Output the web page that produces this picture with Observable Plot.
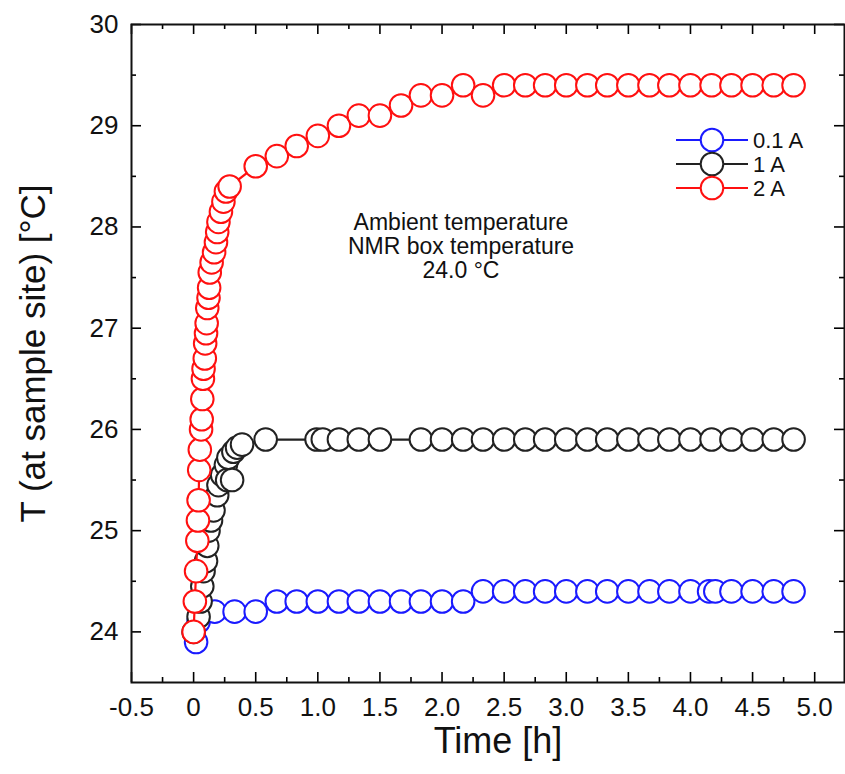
<!DOCTYPE html>
<html><head><meta charset="utf-8">
<script src="https://cdn.jsdelivr.net/npm/d3@7"></script>
<script src="https://cdn.jsdelivr.net/npm/@observablehq/plot@0.6"></script>
<style>
body{margin:0;background:#fff}
#chart svg{font-family:"Liberation Sans",Arial,sans-serif;overflow:visible}
</style>
</head><body><div id="chart"></div>
<script>
const seriesNames = ["0.1 A", "1 A", "2 A"];
const seriesColors = ["#1a1aff", "#222222", "#ff1010"];

const time01 = [0.02,0.04,0.17,0.33,0.5,0.67,0.83,1.0,1.17,1.33,1.5,1.67,1.83,2.0,2.17,2.33,2.5,2.67,2.83,3.0,3.17,3.33,3.5,3.67,3.83,4.0,4.15,4.2,4.33,4.5,4.67,4.83];
const temp01 = [23.9,24.1,24.2,24.2,24.2,24.3,24.3,24.3,24.3,24.3,24.3,24.3,24.3,24.3,24.3,24.4,24.4,24.4,24.4,24.4,24.4,24.4,24.4,24.4,24.4,24.4,24.4,24.4,24.4,24.4,24.4,24.4];

const time1 = [0.0,0.04,0.056,0.07,0.08,0.1,0.11,0.12,0.14,0.16,0.19,0.2,0.23,0.26,0.27,0.28,0.31,0.32,0.35,0.39,0.58,0.99,1.04,1.17,1.33,1.5,1.83,2.0,2.17,2.33,2.5,2.67,2.83,3.0,3.17,3.33,3.5,3.67,3.83,4.0,4.17,4.33,4.5,4.67,4.83];
const temp1 = [24.0,24.15,24.3,24.45,24.6,24.7,24.85,25.0,25.1,25.2,25.35,25.45,25.55,25.65,25.5,25.72,25.5,25.78,25.82,25.85,25.9,25.9,25.9,25.9,25.9,25.9,25.9,25.9,25.9,25.9,25.9,25.9,25.9,25.9,25.9,25.9,25.9,25.9,25.9,25.9,25.9,25.9,25.9,25.9,25.9];

const time2 = [0.0,0.01,0.02,0.03,0.035,0.04,0.045,0.05,0.06,0.065,0.07,0.075,0.08,0.09,0.093,0.1,0.105,0.11,0.12,0.125,0.13,0.145,0.165,0.18,0.19,0.2,0.22,0.24,0.26,0.29,0.5,0.67,0.83,1.0,1.17,1.33,1.5,1.67,1.83,2.0,2.17,2.33,2.5,2.67,2.83,3.0,3.17,3.33,3.5,3.67,3.83,4.0,4.17,4.33,4.5,4.67,4.83];
const temp2 = [24.0,24.3,24.6,24.9,25.1,25.3,25.6,25.8,26.0,26.1,26.3,26.5,26.6,26.7,26.85,26.95,27.05,27.2,27.3,27.4,27.55,27.65,27.75,27.85,27.95,28.05,28.15,28.25,28.35,28.4,28.6,28.7,28.8,28.9,29.0,29.1,29.1,29.2,29.3,29.3,29.4,29.3,29.4,29.4,29.4,29.4,29.4,29.4,29.4,29.4,29.4,29.4,29.4,29.4,29.4,29.4,29.4];

const xTicks = [-0.5,0,0.5,1.0,1.5,2.0,2.5,3.0,3.5,4.0,4.5,5.0];
const xTickLabels = ["-0.5","0","0.5","1.0","1.5","2.0","2.5","3.0","3.5","4.0","4.5","5.0"];
const xMinor = [-0.25,0.25,0.75,1.25,1.75,2.25,2.75,3.25,3.75,4.25,4.75];
const yTicks = [24,25,26,27,28,29,30];
const yTickLabels = ["24","25","26","27","28","29","30"];
const yMinor = [24.5,25.5,26.5,27.5,28.5,29.5];
const xLabel = "Time [h]";
const yLabel = "T (at sample site) [°C]";
const noteLines = ["Ambient temperature", "NMR box temperature", "24.0 °C"];

const times = [time01, time1, time2];
const temps = [temp01, temp1, temp2];
const series = seriesNames.map((name, i) => ({
  name, color: seriesColors[i],
  data: times[i].map((t, j) => ({t, T: temps[i][j]}))
}));

const W = 845, H = 774;
const mL = 131, mR = 1, mT = 24, mB = 92;
const innerW = W - mL - mR, innerH = H - mT - mB;
const majorLen = 10, minorLen = 5;

const marks = [];
marks.push(Plot.tickX(xTicks, {x: d => d, insetTop: innerH - majorLen, strokeWidth: 1.6}));
marks.push(Plot.tickX(xMinor, {x: d => d, insetTop: innerH - minorLen, strokeWidth: 1.6}));
marks.push(Plot.tickX(xTicks, {x: d => d, insetBottom: innerH - majorLen, strokeWidth: 1.6}));
marks.push(Plot.tickX(xMinor, {x: d => d, insetBottom: innerH - minorLen, strokeWidth: 1.6}));
marks.push(Plot.tickY(yTicks, {y: d => d, insetRight: innerW - majorLen, strokeWidth: 1.6}));
marks.push(Plot.tickY(yMinor, {y: d => d, insetRight: innerW - minorLen, strokeWidth: 1.6}));
marks.push(Plot.tickY(yTicks, {y: d => d, insetLeft: innerW - majorLen, strokeWidth: 1.6}));
marks.push(Plot.tickY(yMinor, {y: d => d, insetLeft: innerW - minorLen, strokeWidth: 1.6}));
marks.push(Plot.frame({stroke: "#111", strokeWidth: 2}));

for (const s of series) {
  marks.push(Plot.line(s.data, {x: "t", y: "T", stroke: s.color, strokeWidth: 2.2}));
  marks.push(Plot.dot(s.data, {x: "t", y: "T", r: 11.3, stroke: s.color, strokeWidth: 2, fill: "white"}));
}

marks.push(Plot.axisX(xTicks, {tickSize: 0, tickPadding: 15, tickFormat: (d, i) => xTickLabels[i], fontSize: 26, label: null, fill: "#111"}));
marks.push(Plot.axisY(yTicks, {tickSize: 0, tickPadding: 13, tickFormat: (d, i) => yTickLabels[i], fontSize: 26, label: null, fill: "#111"}));
marks.push(Plot.text([xLabel], {frameAnchor: "bottom", dx: 10, dy: 70, fontSize: 36, fill: "#111"}));
marks.push(Plot.text([yLabel], {frameAnchor: "left", textAnchor: "middle", dx: -98, dy: 0, rotate: -90, fontSize: 35, fill: "#111"}));

const chart = Plot.plot({
  width: W, height: H,
  marginLeft: mL, marginRight: mR, marginTop: mT, marginBottom: mB,
  x: {domain: [-0.5, 5.24], axis: null},
  y: {domain: [23.5, 30], axis: null},
  marks
});

const svg = d3.select(chart);
const note = svg.append("g").attr("font-size", 23).attr("fill", "#111").attr("text-anchor", "middle");
noteLines.forEach((line, i) => {
  note.append("text").attr("x", 461).attr("y", 230 + i * 24).text(line);
});
const leg = svg.append("g").attr("text-anchor", "start");
seriesNames.forEach((name, i) => {
  const y = 140 + i * 24;
  leg.append("line").attr("x1", 676).attr("x2", 748).attr("y1", y).attr("y2", y)
    .attr("stroke", seriesColors[i]).attr("stroke-width", 2.2);
  leg.append("circle").attr("cx", 712).attr("cy", y).attr("r", 11.3)
    .attr("fill", "white").attr("stroke", seriesColors[i]).attr("stroke-width", 2);
  leg.append("text").attr("x", 753).attr("y", y + 8).attr("font-size", 22).attr("fill", "#111").text(name);
});
document.getElementById("chart").appendChild(chart);
</script>
</body></html>
